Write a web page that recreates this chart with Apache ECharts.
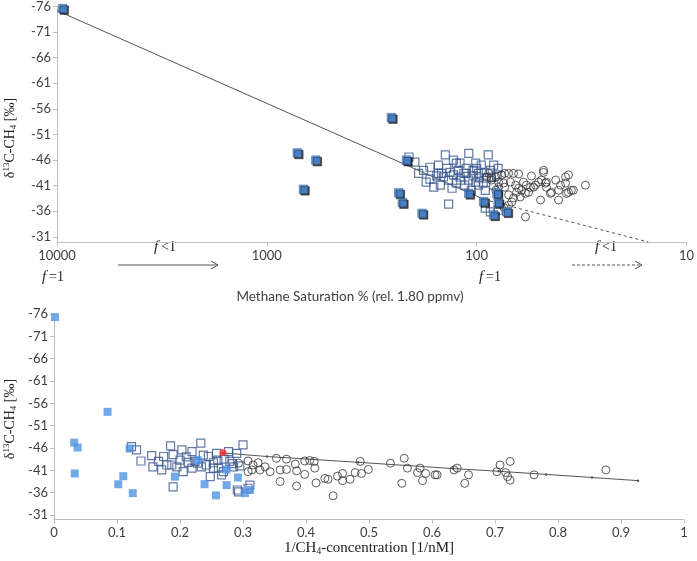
<!DOCTYPE html>
<html><head><meta charset="utf-8">
<script src="https://cdn.jsdelivr.net/npm/echarts@6/dist/echarts.min.js"></script>
<style>html,body{margin:0;padding:0;background:#fff}#c{width:697px;height:561px}</style>
</head><body><div id="c"></div>
<script>
// ---------- TOP PANEL: methane saturation % (log, reversed) vs d13C ----------
const satTicks = [10, 100, 1000, 10000];
const d13Ticks = [-76, -71, -66, -61, -56, -51, -46, -41, -36, -31];

const topBlue = [
  [9400,-75.6],[716,-47.4],[584,-46.0],[669,-40.3],[255,-54.3],[216,-46.0],
  [235,-39.6],[226,-37.7],[182,-35.6],[109,-39.5],[92.6,-37.9],[83,-35.3],
  [80,-39.5],[79,-37.7],[71.8,-35.9]
];
const topSquares = [
  [210,-46.6],[197,-45.6],[189,-43.4],[167,-44.6],[167,-42.3],[160,-40.7],[149,-41.1],
  [141,-47.0],[136,-37.4],[131,-40.5],[129,-46.0],[134,-43.6],[125,-45.4],[120,-42.7],
  [120,-45.4],[109,-47.3],[112,-44.4],[112,-43.4],[119,-42.1],[101,-45.4],[101,-41.7],
  [98,-43.4],[95,-45.0],[88,-47.0],[93,-41.5],[91,-40.1],[91,-36.6],[85,-42.7],[86,-44.0],
  [144,-42.7],[152,-43.4],[152,-45.0],[147,-43.4],[114,-41.1],[125,-41.5],[122,-44.0],
  [115,-43.4],[109,-42.1],[104,-44.0],[104,-42.9],[100,-44.4],[97,-42.5],[92,-43.6],
  [90,-42.5],[83,-41.1],[80,-43.1],[79,-44.4],[83,-45.0],[136,-42.1],[129,-43.1],
  [179,-44.0],[174,-41.7],[155,-42.9],[139,-44.4],[106,-40.1],[98,-41.1],[79,-36.2],[86,-35.9]
];
const topCircles = [
  [87.7,-43.4],[85,-42.5],[81,-42.7],[78.6,-41.7],[76,-43.1],[73.5,-43.4],[70.4,-43.4],
  [66.7,-43.4],[63.1,-43.3],[69,-41.7],[65.2,-41.1],[73.5,-40.7],[81,-40.1],[78.6,-39.2],
  [70.4,-39.2],[68,-37.8],[74.4,-36.8],[64.5,-39.7],[61,-40.1],[62,-38.8],[58.5,-39.5],
  [56.6,-39.7],[55.4,-40.7],[54.8,-42.9],[58.5,-34.9],[49.6,-38.2],[49.1,-42.1],[48,-43.6],
  [46.5,-40.7],[47,-41.5],[44.5,-39.5],[42,-42.1],[40.7,-40.1],[40.7,-38.2],[37.7,-41.5],
  [36.5,-43.1],[34.6,-40.1],[37.3,-39.5],[30.3,-41.1],[52.4,-41.1],[50.7,-41.7],[57.9,-41.1],
  [59.8,-41.7],[89.7,-42.7],[85,-42.1],[63.1,-40.5],[53.6,-40.7],[66.7,-38.6],[70.4,-37.2],
  [46.5,-41.7],[44,-39.7],[39.8,-41.1],[35.4,-40.1],[36.5,-39.7],[48,-44.0],[37.7,-42.7],
  [74.4,-41.5],[78.6,-40.7]
];
const topFitSolid = [[10000,-75.2],[92,-38.3]];
const topFitDashed = [[92,-38.3],[15.2,-30.0]];

// ---------- BOTTOM PANEL: 1/CH4 concentration vs d13C ----------
const invTicks = [0,0.1,0.2,0.3,0.4,0.5,0.6,0.7,0.8,0.9,1];
const botBlue = [
  [0.0016,-75.3],[0.032,-47.2],[0.0376,-46.1],[0.033,-40.3],[0.085,-54.1],[0.12,-45.9],
  [0.11,-39.7],[0.102,-37.9],[0.125,-35.9],[0.192,-39.6],[0.228,-43.3],[0.239,-37.9],
  [0.257,-35.4],[0.274,-37.7],[0.274,-41.2],[0.292,-39.4],[0.303,-35.9],[0.311,-36.6]
];
const botSquares = [
  [0.123,-46.3],[0.131,-45.6],[0.138,-43.1],[0.155,-44.3],[0.157,-41.8],[0.166,-43.0],
  [0.171,-41.1],[0.174,-44.1],[0.185,-46.5],[0.189,-44.5],[0.187,-42.2],[0.195,-41.8],
  [0.189,-37.3],[0.203,-45.6],[0.2,-43.3],[0.205,-40.7],[0.219,-45.2],[0.219,-41.5],
  [0.224,-43.0],[0.233,-47.1],[0.237,-44.4],[0.234,-41.8],[0.245,-44.1],[0.253,-42.7],
  [0.248,-39.6],[0.258,-44.8],[0.261,-41.5],[0.266,-40.0],[0.277,-45.2],[0.279,-43.0],
  [0.285,-41.8],[0.29,-44.8],[0.293,-36.2],[0.3,-46.7],[0.308,-37.0],[0.179,-42.2],
  [0.21,-44.0],[0.242,-42.2],[0.291,-36.6],[0.311,-37.7],[0.269,-40.7],[0.253,-41.5],
  [0.228,-42.6],[0.213,-42.8],[0.27,-43.5],[0.283,-42.5],[0.295,-42.0],[0.26,-43.3]
];
const botCircles = [
  [0.293,-42.6],[0.308,-43.1],[0.316,-42.2],[0.324,-42.7],[0.314,-41.1],[0.327,-41.1],
  [0.335,-41.8],[0.343,-40.7],[0.353,-43.7],[0.359,-41.1],[0.369,-41.2],[0.369,-43.5],
  [0.383,-42.4],[0.385,-40.9],[0.398,-43.1],[0.406,-43.2],[0.413,-43.0],[0.414,-41.5],
  [0.398,-40.1],[0.359,-38.5],[0.385,-37.5],[0.416,-38.2],[0.43,-39.2],[0.435,-39.0],
  [0.443,-35.3],[0.45,-39.7],[0.458,-40.3],[0.458,-38.7],[0.47,-39.0],[0.478,-40.5],
  [0.486,-43.0],[0.488,-40.3],[0.499,-41.2],[0.534,-42.6],[0.552,-38.1],[0.556,-43.7],
  [0.561,-41.5],[0.577,-40.5],[0.581,-41.5],[0.585,-38.7],[0.59,-40.3],[0.605,-40.0],
  [0.608,-40.0],[0.635,-41.1],[0.64,-41.5],[0.652,-38.1],[0.658,-40.0],[0.703,-40.7],
  [0.708,-42.2],[0.717,-40.5],[0.72,-39.6],[0.724,-38.8],[0.724,-43.0],[0.762,-40.0],
  [0.876,-41.1],[0.308,-40.7]
];
const botRed = [[0.268,-45.0]];
const botFit = [[0.268,-44.9],[0.338,-44.1],[0.483,-42.8],[0.633,-41.4],[0.706,-40.8],
                [0.781,-40.1],[0.854,-39.4],[0.927,-38.7]];

const SANS = 'Lato', SERIF = 'Liberation Serif';
const axisGrey = '#bfbfbf', labelCol = '#404040';

function yAx(gi){
  return {
    gridIndex: gi, type: 'value', inverse: true, min: -76, max: -30, interval: 5,
    axisLine: {show: true, lineStyle: {color: axisGrey}},
    axisTick: {show: true, length: 4, lineStyle: {color: axisGrey}},
    axisLabel: {color: labelCol, fontFamily: SANS, fontSize: 13, margin: 6, showMaxLabel: false,
      formatter: v => (d13Ticks.includes(v) ? String(v) : '')},
    splitLine: {show: false}
  };
}

const chart = echarts.init(document.getElementById('c'), null, {renderer: 'canvas'});
const sqOpen = c => ({color: 'rgba(255,255,255,0)', borderColor: c, borderWidth: 1.2});
const fRich = {i: {fontFamily: SERIF, fontStyle: 'italic', fontSize: 15, fill: '#222'},
               n: {fontFamily: SERIF, fontSize: 14, fill: '#222'}};
const yNameRich = {a: {fontFamily: SERIF, fontSize: 14, lineHeight: 16, fill: '#222'},
                   sup: {fontFamily: SERIF, fontSize: 9, verticalAlign: 'top', lineHeight: 16, fill: '#222'},
                   sub: {fontFamily: SERIF, fontSize: 9, verticalAlign: 'bottom', lineHeight: 16, fill: '#222'}};

chart.setOption({
  animation: false,
  backgroundColor: '#fff',
  grid: [
    {left: 57, right: 9, top: 6, height: 236},
    {left: 54, right: 13, top: 314, height: 205.5}
  ],
  xAxis: [
    {gridIndex: 0, type: 'log', logBase: 10, min: 10, max: 10000, inverse: true,
     axisLine: {show: true, onZero: false, lineStyle: {color: axisGrey}},
     axisTick: {show: true, length: 4, lineStyle: {color: axisGrey}},
     axisLabel: {color: labelCol, fontFamily: SANS, fontSize: 13, margin: 7,
       formatter: v => (satTicks.includes(Math.round(v)) ? String(Math.round(v)) : '')},
     splitLine: {show: false}, minorTick: {show: false}},
    {gridIndex: 1, type: 'value', min: 0, max: 1, interval: 0.1,
     axisLine: {show: true, onZero: false, lineStyle: {color: axisGrey}},
     axisTick: {show: true, length: 4, lineStyle: {color: axisGrey}},
     axisLabel: {color: labelCol, fontFamily: SANS, fontSize: 13, margin: 7,
       formatter: v => String(+v.toFixed(1))},
     splitLine: {show: false}}
  ],
  yAxis: [yAx(0), yAx(1)],
  series: [
    {type: 'line', xAxisIndex: 0, yAxisIndex: 0, data: topFitSolid, symbol: 'none',
     lineStyle: {color: '#555', width: 1}, z: 1},
    {type: 'line', xAxisIndex: 0, yAxisIndex: 0, data: topFitDashed, symbol: 'none',
     lineStyle: {color: '#555', width: 1, type: [3, 3]}, z: 1},
    {type: 'scatter', xAxisIndex: 0, yAxisIndex: 0, data: topSquares, symbol: 'rect', symbolSize: 8,
     itemStyle: sqOpen('#3b5890'), z: 2},
    {type: 'scatter', xAxisIndex: 0, yAxisIndex: 0, data: topCircles, symbol: 'circle', symbolSize: 8,
     itemStyle: {color: 'rgba(255,255,255,0)', borderColor: '#333', borderWidth: 1}, z: 3},
    {type: 'scatter', xAxisIndex: 0, yAxisIndex: 0, data: topBlue, symbol: 'rect', symbolSize: 8.5,
     itemStyle: {color: '#4a8fe3', borderColor: '#2a4f80', borderWidth: 0.6,
       shadowColor: 'rgba(0,0,0,0.9)', shadowBlur: 0, shadowOffsetX: 1.6, shadowOffsetY: 1.6}, z: 4},

    {type: 'line', xAxisIndex: 1, yAxisIndex: 1, data: botFit, symbol: 'circle', symbolSize: 2.5,
     itemStyle: {color: '#555'}, lineStyle: {color: '#555', width: 1}, z: 1},
    {type: 'scatter', xAxisIndex: 1, yAxisIndex: 1, data: botSquares, symbol: 'rect', symbolSize: 8,
     itemStyle: sqOpen('#3b5890'), z: 2},
    {type: 'scatter', xAxisIndex: 1, yAxisIndex: 1, data: botCircles, symbol: 'circle', symbolSize: 8,
     itemStyle: {color: 'rgba(255,255,255,0)', borderColor: '#333', borderWidth: 1}, z: 3},
    {type: 'scatter', xAxisIndex: 1, yAxisIndex: 1, data: botBlue, symbol: 'rect', symbolSize: 8,
     itemStyle: {color: '#4f93e3'}, z: 4},
    {type: 'scatter', xAxisIndex: 1, yAxisIndex: 1, data: botRed, symbol: 'circle', symbolSize: 7,
     itemStyle: {color: '#ff2a2a'}, z: 6}
  ],
  graphic: [
    {type: 'text', x: 10, y: 138, rotation: Math.PI / 2,
     style: {text: '{a|δ}{sup|13}{a|C-CH}{sub|4}{a| [‰]}', align: 'center', verticalAlign: 'middle', rich: yNameRich}},
    {type: 'text', x: 10, y: 419, rotation: Math.PI / 2,
     style: {text: '{a|δ}{sup|13}{a|C-CH}{sub|4}{a| [‰]}', align: 'center', verticalAlign: 'middle', rich: yNameRich}},
    {type: 'text', x: 165, y: 247,
     style: {text: '{i|f}{n|\u2009<1}', align: 'center', verticalAlign: 'middle', rich: fRich}},
    {type: 'text', x: 606, y: 247,
     style: {text: '{i|f}{n|\u2009<1}', align: 'center', verticalAlign: 'middle', rich: fRich}},
    {type: 'text', x: 53, y: 277,
     style: {text: '{i|f}{n|\u2009=1}', align: 'center', verticalAlign: 'middle', rich: fRich}},
    {type: 'text', x: 490, y: 277,
     style: {text: '{i|f}{n|\u2009=1}', align: 'center', verticalAlign: 'middle', rich: fRich}},
    {type: 'line', shape: {x1: 118, y1: 265, x2: 218, y2: 265}, style: {stroke: '#555', lineWidth: 1}},
    {type: 'polyline', shape: {points: [[211, 261], [218, 265], [211, 269]]}, style: {stroke: '#555', lineWidth: 1, fill: null}},
    {type: 'line', shape: {x1: 572, y1: 265, x2: 642, y2: 265}, style: {stroke: '#555', lineWidth: 1, lineDash: [3, 2]}},
    {type: 'polyline', shape: {points: [[635, 261], [642, 265], [635, 269]]}, style: {stroke: '#555', lineWidth: 1, fill: null}},
    {type: 'text', x: 350, y: 297,
     style: {text: 'Methane Saturation % (rel. 1.80 ppmv)', align: 'center', verticalAlign: 'middle',
       fontFamily: SANS, fontSize: 13.5, fill: labelCol}},
    {type: 'text', x: 369, y: 548,
     style: {text: '{a|1/CH}{sub|4}{a|-concentration [1/nM]}', align: 'center', verticalAlign: 'middle',
       rich: {a: {fontFamily: SERIF, fontSize: 15, lineHeight: 16, fill: '#222'},
              sub: {fontFamily: SERIF, fontSize: 9.5, verticalAlign: 'bottom', lineHeight: 16, fill: '#222'}}}}
  ]
});
</script>
</body></html>
